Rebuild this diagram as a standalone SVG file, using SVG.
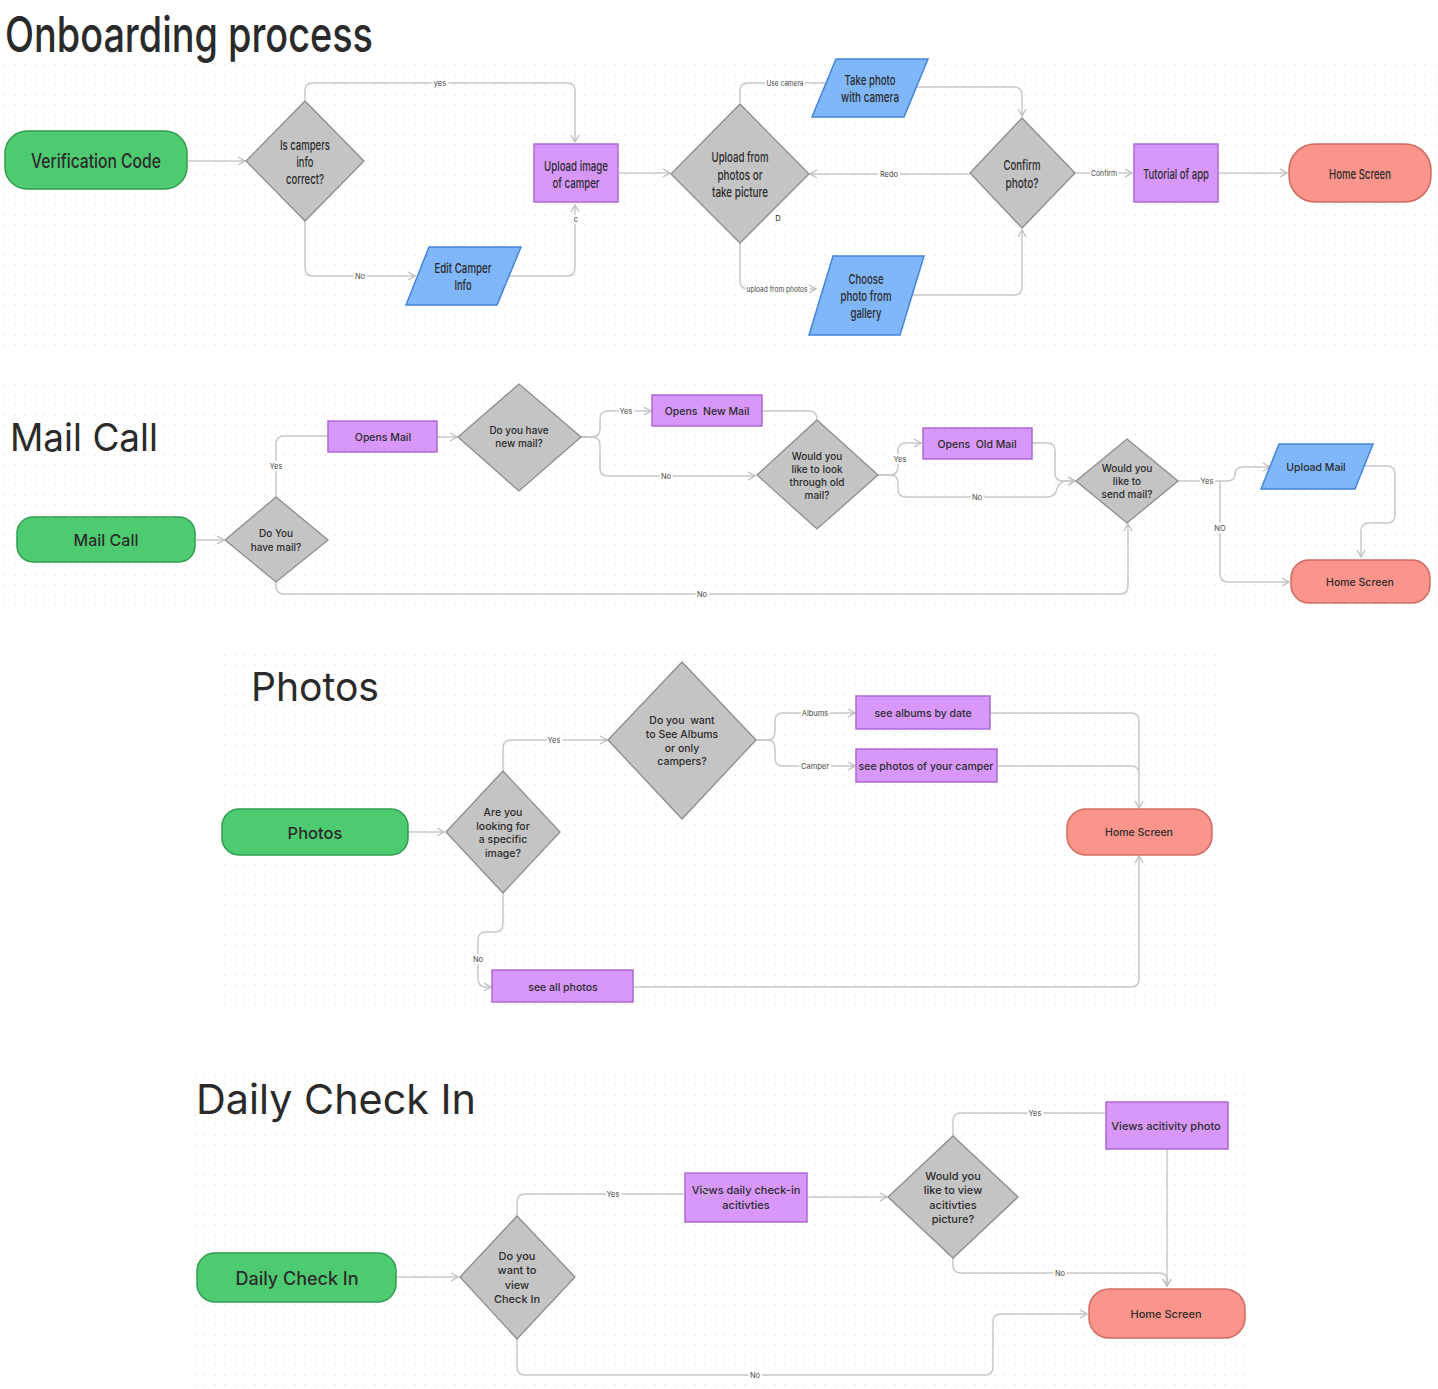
<svg xmlns="http://www.w3.org/2000/svg" width="1438" height="1389" viewBox="0 0 1438 1389">
<defs>
<pattern id="dots" width="10" height="10" patternUnits="userSpaceOnUse"><circle cx="5" cy="5" r="0.7" fill="#dcdcdc"/></pattern>
<marker id="ah" viewBox="0 0 10 10" refX="9" refY="5" markerWidth="10" markerHeight="10" markerUnits="userSpaceOnUse" orient="auto"><path d="M2,1 L9,5 L2,9" fill="none" stroke="#bdbdbd" stroke-width="1.3"/></marker>
</defs>
<style>
text{font-family:Inter,"Liberation Sans",sans-serif;fill:#2b2b2b;text-anchor:middle;dominant-baseline:central;font-weight:500}
.title{text-anchor:start;dominant-baseline:alphabetic;fill:#2a2a2a;font-weight:400}
.start{fill:#4ecb71;stroke:#2f9e4f;stroke-width:1.5}
.dec{fill:#c4c4c4;stroke:#8c8c8c;stroke-width:1.3}
.proc{fill:#d898fb;stroke:#ad68d6;stroke-width:1.5}
.io{fill:#80b6fa;stroke:#4384dc;stroke-width:1.5}
.end{fill:#fb958b;stroke:#cf6b61;stroke-width:1.5}
.c path{fill:none;stroke:#c8c8c8;stroke-width:1.5}
.c path.a{marker-end:url(#ah)}
.lbl{font-size:7.5px;fill:#444;stroke:#fff;stroke-width:4;paint-order:stroke;font-weight:400}
.ob{font-size:13.5px}
</style>
<rect width="1438" height="1389" fill="#fff"/>
<rect x="0" y="64" width="1438" height="286" fill="url(#dots)"/>
<rect x="0" y="384" width="1438" height="222" fill="url(#dots)"/>
<rect x="218" y="646" width="1004" height="364" fill="url(#dots)"/>
<rect x="190" y="1066" width="1060" height="323" fill="url(#dots)"/>

<!-- Titles -->
<text class="title" x="5" y="52" font-size="50" textLength="368" lengthAdjust="spacingAndGlyphs" style="font-weight:500">Onboarding process</text>
<text class="title" x="10" y="451" font-size="38" textLength="148" lengthAdjust="spacingAndGlyphs">Mail Call</text>
<text class="title" x="251" y="701" font-size="40" textLength="128" lengthAdjust="spacingAndGlyphs">Photos</text>
<text class="title" x="196" y="1114" font-size="41" textLength="280" lengthAdjust="spacingAndGlyphs">Daily Check In</text>

<!-- Connectors -->
<g id="connectors" class="c">
<!-- onboarding -->
<path class="a" d="M187,161 H245"/>
<path class="a" d="M305,100 V91 Q305,83 313,83 H567 Q575,83 575,91 V142"/>
<path class="a" d="M305,221 V268 Q305,276 313,276 H415"/>
<path class="a" d="M509,276 H567 Q575,276 575,268 V205"/>
<path class="a" d="M619,173 H670"/>
<path d="M740,103 V91 Q740,83 748,83 H828"/>
<path class="a" d="M913,87 H1014 Q1022,87 1022,95 V116"/>
<path class="a" d="M970,174 H810"/>
<path class="a" d="M740,243 V281 Q740,289 748,289 H816"/>
<path class="a" d="M912,295 H1014 Q1022,295 1022,287 V230"/>
<path class="a" d="M1075,173 H1132"/>
<path class="a" d="M1218,173 H1287"/>
<!-- mail -->
<path class="a" d="M195,540 H224"/>
<path d="M276,497 V444 Q276,436 284,436 H328"/>
<path class="a" d="M437,437 H457"/>
<path class="a" d="M581,437 H592 Q600,437 600,429 V419 Q600,411 608,411 H651"/>
<path class="a" d="M581,437 H592 Q600,437 600,445 V468 Q600,476 608,476 H755"/>
<path d="M762,411 H809 Q817,411 817,419"/>
<path class="a" d="M878,475 H890 Q898,475 898,467 V451 Q898,443 906,443 H921"/>
<path class="a" d="M878,475 H890 Q898,475 898,483 V489 Q898,497 906,497 H1047 Q1055,497 1057,489 Q1059,481 1067,481 H1075"/>
<path class="a" d="M1032,443 H1047 Q1055,443 1055,451 V473 Q1055,481 1063,481 H1075"/>
<path class="a" d="M1178,481 H1227 Q1235,481 1235,474 Q1235,467 1243,467 H1270"/>
<path class="a" d="M1220,481 V574 Q1220,582 1228,582 H1289"/>
<path class="a" d="M1364,466 H1387 Q1395,466 1395,474 V515 Q1395,523 1387,523 H1369 Q1361,523 1361,531 V557"/>
<path class="a" d="M276,582 V586 Q276,594 284,594 H1120 Q1128,594 1128,586 V524"/>
<!-- photos -->
<path class="a" d="M408,832 H444"/>
<path class="a" d="M503,771 V748 Q503,740 511,740 H607"/>
<path class="a" d="M503,893 V924 Q503,932 495,932 H486 Q478,932 478,940 V979 Q478,987 486,987 H491"/>
<path class="a" d="M756,740 H767 Q775,740 775,732 V721 Q775,713 783,713 H855"/>
<path class="a" d="M756,740 H767 Q775,740 775,748 V758 Q775,766 783,766 H855"/>
<path class="a" d="M990,713 H1131 Q1139,713 1139,721 V808"/>
<path d="M997,766 H1131 Q1139,766 1139,774"/>
<path class="a" d="M633,987 H1131 Q1139,987 1139,979 V856"/>
<!-- daily -->
<path class="a" d="M396,1277 H458"/>
<path class="a" d="M517,1216 V1202 Q517,1194 525,1194 H710"/>
<path class="a" d="M807,1197 H887"/>
<path d="M953,1136 V1121 Q953,1113 961,1113 H1105"/>
<path class="a" d="M1167,1149 V1286"/>
<path class="a" d="M953,1258 V1265 Q953,1273 961,1273 H1159 Q1167,1273 1167,1281 V1286"/>
<path class="a" d="M517,1339 V1367 Q517,1375 525,1375 H985 Q993,1375 993,1367 V1322 Q993,1314 1001,1314 H1087"/>
</g>

<!-- connector labels -->
<g id="labels">
<text class="lbl" x="440" y="83">yes</text>
<text class="lbl" x="360" y="276">No</text>
<text class="lbl" x="576" y="219" font-size="6">c</text>
<text class="lbl" x="785" y="83" textLength="37" lengthAdjust="spacingAndGlyphs">Use camera</text>
<text class="lbl" x="889" y="174">Redo</text>
<text class="lbl" x="777" y="289" textLength="61" lengthAdjust="spacingAndGlyphs">upload from photos</text>
<text class="lbl" x="1104" y="173" textLength="26" lengthAdjust="spacingAndGlyphs">Confirm</text>
<text class="lbl" x="778" y="218" style="stroke:none;fill:#222">D</text>
<text class="lbl" x="276" y="466" font-size="7">Yes</text>
<text class="lbl" x="626" y="411" font-size="7">Yes</text>
<text class="lbl" x="666" y="476" font-size="7">No</text>
<text class="lbl" x="900" y="459" font-size="7">Yes</text>
<text class="lbl" x="977" y="497" font-size="7">No</text>
<text class="lbl" x="1207" y="481" font-size="7">Yes</text>
<text class="lbl" x="1220" y="528" font-size="7">NO</text>
<text class="lbl" x="702" y="594" font-size="7">No</text>
<text class="lbl" x="554" y="740" font-size="7">Yes</text>
<text class="lbl" x="478" y="959" font-size="7">No</text>
<text class="lbl" x="815" y="713" font-size="7">Albums</text>
<text class="lbl" x="815" y="766" font-size="7">Camper</text>
<text class="lbl" x="613" y="1194" font-size="7">Yes</text>
<text class="lbl" x="1035" y="1113" font-size="7">Yes</text>
<text class="lbl" x="1060" y="1273" font-size="7">No</text>
<text class="lbl" x="755" y="1375" font-size="7">No</text>
</g>

<!-- Onboarding nodes -->
<g id="ob-verification"><rect class="start" x="5" y="131" width="182" height="58" rx="22"/><text x="96" y="161" font-size="20" textLength="130" lengthAdjust="spacingAndGlyphs">Verification Code</text></g>
<g id="ob-info-correct"><polygon class="dec" points="305,101 364,161 305,221 246,161"/>
<text class="ob" x="305" y="145" textLength="50" lengthAdjust="spacingAndGlyphs">Is campers</text>
<text class="ob" x="305" y="162" textLength="17" lengthAdjust="spacingAndGlyphs">info</text>
<text class="ob" x="305" y="179" textLength="38" lengthAdjust="spacingAndGlyphs">correct?</text></g>
<g id="ob-upload-image"><rect class="proc" x="534" y="144" width="84" height="58"/>
<text class="ob" x="576" y="166" textLength="64" lengthAdjust="spacingAndGlyphs">Upload image</text>
<text class="ob" x="576" y="183" textLength="47" lengthAdjust="spacingAndGlyphs">of camper</text></g>
<g id="ob-edit-camper"><polygon class="io" points="406,305 429,247 521,247 497,305"/>
<text class="ob" x="463" y="268" textLength="57" lengthAdjust="spacingAndGlyphs">Edit Camper</text>
<text class="ob" x="463" y="285" textLength="17" lengthAdjust="spacingAndGlyphs">Info</text></g>
<g id="ob-upload-from"><polygon class="dec" points="740,104 809,174 740,243 671,174"/>
<text class="ob" x="740" y="157" textLength="57" lengthAdjust="spacingAndGlyphs">Upload from</text>
<text class="ob" x="740" y="175" textLength="45" lengthAdjust="spacingAndGlyphs">photos or</text>
<text class="ob" x="740" y="192" textLength="56" lengthAdjust="spacingAndGlyphs">take picture</text></g>
<g id="ob-take-photo"><polygon class="io" points="812,117 836,59 928,59 904,117"/>
<text class="ob" x="870" y="80" textLength="51" lengthAdjust="spacingAndGlyphs">Take photo</text>
<text class="ob" x="870" y="97" textLength="58" lengthAdjust="spacingAndGlyphs">with camera</text></g>
<g id="ob-choose-photo"><polygon class="io" points="809,335 833,256 924,256 900,335"/>
<text class="ob" x="866" y="279" textLength="35" lengthAdjust="spacingAndGlyphs">Choose</text>
<text class="ob" x="866" y="296" textLength="51" lengthAdjust="spacingAndGlyphs">photo from</text>
<text class="ob" x="866" y="313" textLength="31" lengthAdjust="spacingAndGlyphs">gallery</text></g>
<g id="ob-confirm"><polygon class="dec" points="1022,118 1075,173 1022,228 970,173"/>
<text class="ob" x="1022" y="165" textLength="37" lengthAdjust="spacingAndGlyphs">Confirm</text>
<text class="ob" x="1022" y="183" textLength="33" lengthAdjust="spacingAndGlyphs">photo?</text></g>
<g id="ob-tutorial"><rect class="proc" x="1134" y="144" width="84" height="58"/>
<text class="ob" x="1176" y="174" textLength="66" lengthAdjust="spacingAndGlyphs">Tutorial of app</text></g>
<g id="ob-home"><rect class="end" x="1289" y="144" width="142" height="58" rx="26"/>
<text class="ob" x="1360" y="174" textLength="62" lengthAdjust="spacingAndGlyphs">Home Screen</text></g>

<!-- Mail Call nodes -->
<g id="mc-start"><rect class="start" x="17" y="517" width="178" height="45" rx="16"/><text x="106" y="540" font-size="16">Mail Call</text></g>
<g id="mc-have-mail"><polygon class="dec" points="276,497 328,540 276,582 225,540"/>
<text x="276" y="533" font-size="10">Do You</text><text x="276" y="547" font-size="10">have mail?</text></g>
<g id="mc-opens-mail"><rect class="proc" x="328" y="421" width="109" height="31"/><text x="383" y="437" font-size="10.5">Opens Mail</text></g>
<g id="mc-new-mail"><polygon class="dec" points="519,384 581,437 519,491 458,437"/>
<text x="519" y="430" font-size="10">Do you have</text><text x="519" y="443" font-size="10">new mail?</text></g>
<g id="mc-opens-new"><rect class="proc" x="652" y="395" width="110" height="31"/><text x="707" y="411" font-size="10.5" xml:space="preserve">Opens  New Mail</text></g>
<g id="mc-old-mail-q"><polygon class="dec" points="817,420 878,475 817,529 757,475"/>
<text x="817" y="456" font-size="10">Would you</text><text x="817" y="469" font-size="10">like to look</text><text x="817" y="482" font-size="10">through old</text><text x="817" y="495" font-size="10">mail?</text></g>
<g id="mc-opens-old"><rect class="proc" x="923" y="428" width="109" height="31"/><text x="977" y="444" font-size="10.5" xml:space="preserve">Opens  Old Mail</text></g>
<g id="mc-send-q"><polygon class="dec" points="1127,439 1178,481 1127,523 1076,481"/>
<text x="1127" y="468" font-size="10">Would you</text><text x="1127" y="481" font-size="10">like to</text><text x="1127" y="494" font-size="10">send mail?</text></g>
<g id="mc-upload"><polygon class="io" points="1261,489 1279,444 1373,444 1355,489"/><text x="1316" y="467" font-size="10.5">Upload Mail</text></g>
<g id="mc-home"><rect class="end" x="1291" y="560" width="139" height="43" rx="18"/><text x="1360" y="582" font-size="10.5">Home Screen</text></g>

<!-- Photos nodes -->
<g id="ph-start"><rect class="start" x="222" y="809" width="186" height="46" rx="17"/><text x="315" y="833" font-size="16.5">Photos</text></g>
<g id="ph-specific"><polygon class="dec" points="503,771 560,832 503,893 446,832"/>
<text x="503" y="812" font-size="10.5">Are you</text><text x="503" y="826" font-size="10.5">looking for</text><text x="503" y="839" font-size="10.5">a specific</text><text x="503" y="853" font-size="10.5">image?</text></g>
<g id="ph-albums-q"><polygon class="dec" points="682,662 756,740 682,819 608,740"/>
<text x="682" y="720" font-size="10.5" xml:space="preserve">Do you  want</text><text x="682" y="734" font-size="10.5">to See Albums</text><text x="682" y="748" font-size="10.5">or only</text><text x="682" y="761" font-size="10.5">campers?</text></g>
<g id="ph-albums"><rect class="proc" x="856" y="696" width="134" height="33"/><text x="923" y="713" font-size="10.5">see albums by date</text></g>
<g id="ph-camper"><rect class="proc" x="856" y="749" width="141" height="33"/><text x="926" y="766" font-size="10.5">see photos of your camper</text></g>
<g id="ph-all"><rect class="proc" x="492" y="970" width="141" height="32"/><text x="563" y="987" font-size="10.5">see all photos</text></g>
<g id="ph-home"><rect class="end" x="1067" y="809" width="145" height="46" rx="19"/><text x="1139" y="832" font-size="10.5">Home Screen</text></g>

<!-- Daily Check In nodes -->
<g id="dc-start"><rect class="start" x="197" y="1253" width="199" height="49" rx="18"/><text x="297" y="1278" font-size="18">Daily Check In</text></g>
<g id="dc-view-q"><polygon class="dec" points="517,1216 575,1277 517,1339 460,1277"/>
<text x="517" y="1256" font-size="11">Do you</text><text x="517" y="1270" font-size="11">want to</text><text x="517" y="1285" font-size="11">view</text><text x="517" y="1299" font-size="11">Check In</text></g>
<g id="dc-views-daily"><rect class="proc" x="685" y="1173" width="122" height="49"/><text x="746" y="1190" font-size="11">Views daily check-in</text><text x="746" y="1205" font-size="11">acitivties</text></g>
<g id="dc-picture-q"><polygon class="dec" points="953,1136 1018,1197 953,1258 888,1197"/>
<text x="953" y="1176" font-size="11">Would you</text><text x="953" y="1190" font-size="11">like to view</text><text x="953" y="1205" font-size="11">acitivties</text><text x="953" y="1219" font-size="11">picture?</text></g>
<g id="dc-activity-photo"><rect class="proc" x="1106" y="1102" width="122" height="47"/><text x="1166" y="1126" font-size="11">Views acitivity photo</text></g>
<g id="dc-home"><rect class="end" x="1089" y="1289" width="156" height="49" rx="20"/><text x="1166" y="1314" font-size="11">Home Screen</text></g>
<!-- arrow over daily box as in reference -->
<path d="M702,1189 L710,1194 L702,1199" fill="none" stroke="#bdbdbd" stroke-width="1.3"/>
</svg>
